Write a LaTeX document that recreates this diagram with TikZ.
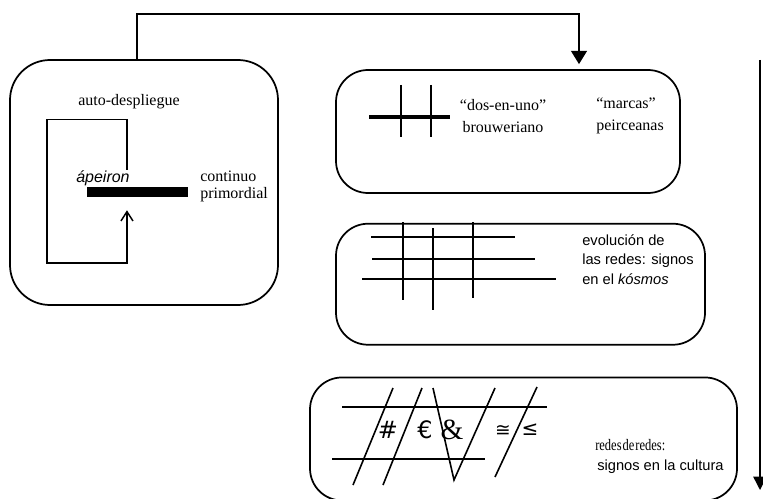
\documentclass[tikz,border=0pt]{standalone}
\usepackage{fontspec}
\setmainfont{Liberation Serif}
\newfontfamily\optimafont{Liberation Sans}
\newfontfamily\symfont{DejaVu Sans}
\usetikzlibrary{arrows.meta,positioning}

\begin{document}
\begin{tikzpicture}[
  x=0.75pt, y=-0.75pt,
  caja/.style={rectangle, rounded corners=24pt, draw, line width=1.3pt,
               inner sep=0pt},
  flecha/.style={-{Triangle[width=12pt,length=10pt]}, line width=1.1pt},
  traza/.style={line width=1.2pt},
  bucle/.style={-{Straight Barb[length=7pt,width=9pt]}, line width=1.1pt},
  rotulo/.style={font=\fontsize{12}{12.5}\selectfont, inner sep=0pt},
  rotulosans/.style={font=\optimafont\fontsize{11}{14.6}\selectfont,
                     inner sep=0pt, align=left},
  signo/.style={font=\symfont\fontsize{18}{18}\selectfont, inner sep=0pt}
]

\useasboundingbox (0,0) rectangle (763,499);

% cajas
\node[caja, rounded corners=30pt, minimum width=201pt,
      minimum height=183.75pt]                         (apeiron) at (144,182.5) {};

\node[caja, minimum width=258pt, minimum height=92.25pt] (brouwer) at (508,131.5) {};

\node[caja, minimum width=276.75pt, minimum height=90.75pt,
      below=21.75pt of brouwer.south west, anchor=north west] (kosmos) {};

\node[caja, minimum width=320.25pt, minimum height=92.25pt,
      below=23.25pt of kosmos.south west, anchor=north west,
      xshift=-19.5pt]                                  (cultura) {};

% continuo primordial
\node[rotulo] (despliegue) at (129,102) {auto-despliegue};
\node[fill=black, inner sep=0pt, minimum width=75.75pt,
      minimum height=7.5pt]                            (barra) at (137.5,192) {};
\node[font=\optimafont\itshape\fontsize{12}{12}\selectfont, inner sep=0pt,
      anchor=west]                                     (griego) at (76,178) {ápeiron};
\node[rotulo, align=left, anchor=west]                 (continuo) at (200,186.5)
      {continuo\\primordial};
\draw[bucle] ([xshift=-7.9pt, yshift=12.75pt]barra.north) -- ++(0,-50)
      -| (47,263) -| ([xshift=-7.9pt, yshift=-9.75pt]barra.south);

% dos-en-uno
\draw[line width=3pt] (369,117) -- (450,117);
\draw[traza] (401,85) -- (401,137) (431,85) -- (431,137);
\node[rotulo, align=center, font=\fontsize{12}{16.5}\selectfont] (dosenuno) at (503,116)
      {“dos-en-uno”\\brouweriano};
\node[rotulo, align=left, anchor=west, font=\fontsize{12}{16.5}\selectfont] (marcas) at (596,116)
      {“marcas”\\peirceanas};

% redes en el kosmos
\foreach \y/\a/\b in {237/371/515, 259/372/535, 279/362/556}
  \draw[traza] (\a,\y) -- (\b,\y);
\foreach \x/\a/\b in {403/222/300, 433/228/310, 473/222/298}
  \draw[traza] (\x,\a) -- (\x,\b);
\node[rotulosans, anchor=west] (evolucion) at (582,259.5)
      {evolución de\\las redes: signos\\en el \textit{kósmos}};

% redes de redes
\draw[traza] (342,407) -- (547,407);
\draw[traza] (332,459) -- (485,459);
\draw[traza] (393,388) -- (353,485);
\draw[traza] (422,388) -- (383,485);
\draw[traza] (433,388) -- (454,480) -- (495,388);
\draw[traza] (537,387) -- (495,477);
\node[signo] (almohadilla) at (388,430) {\#};
\node[signo] (euro)        at (425,430) {€};
\node[rotulo, font=\fontsize{22}{22}\selectfont] (et) at (452,430) {\&};
\node[signo, font=\symfont\fontsize{14}{14}\selectfont] (congruente) at (503,431) {≅};
\node[signo, font=\symfont\fontsize{15}{15}\selectfont] (menorigual) at (530,430) {≤};
\node[rotulo, anchor=west] (redes) at (595,445)
      {\scalebox{0.78}[1]{redes\hspace{1pt}de\hspace{1pt}redes:}};
\node[rotulosans, anchor=west] (signos) at (597,467) {signos en la cultura};

% conectores
\draw[flecha, shorten >=3.75pt] ([xshift=-5.25pt]apeiron.north) -- ++(0,-45)
      -| ([xshift=53.25pt]brouwer.north);
\coordinate (inicio) at (760,60);
\coordinate (fin)    at (760,490);
\draw[flecha, -{Triangle[width=10pt,length=10pt]}] (inicio) -- (fin);

\end{tikzpicture}
\end{document}
